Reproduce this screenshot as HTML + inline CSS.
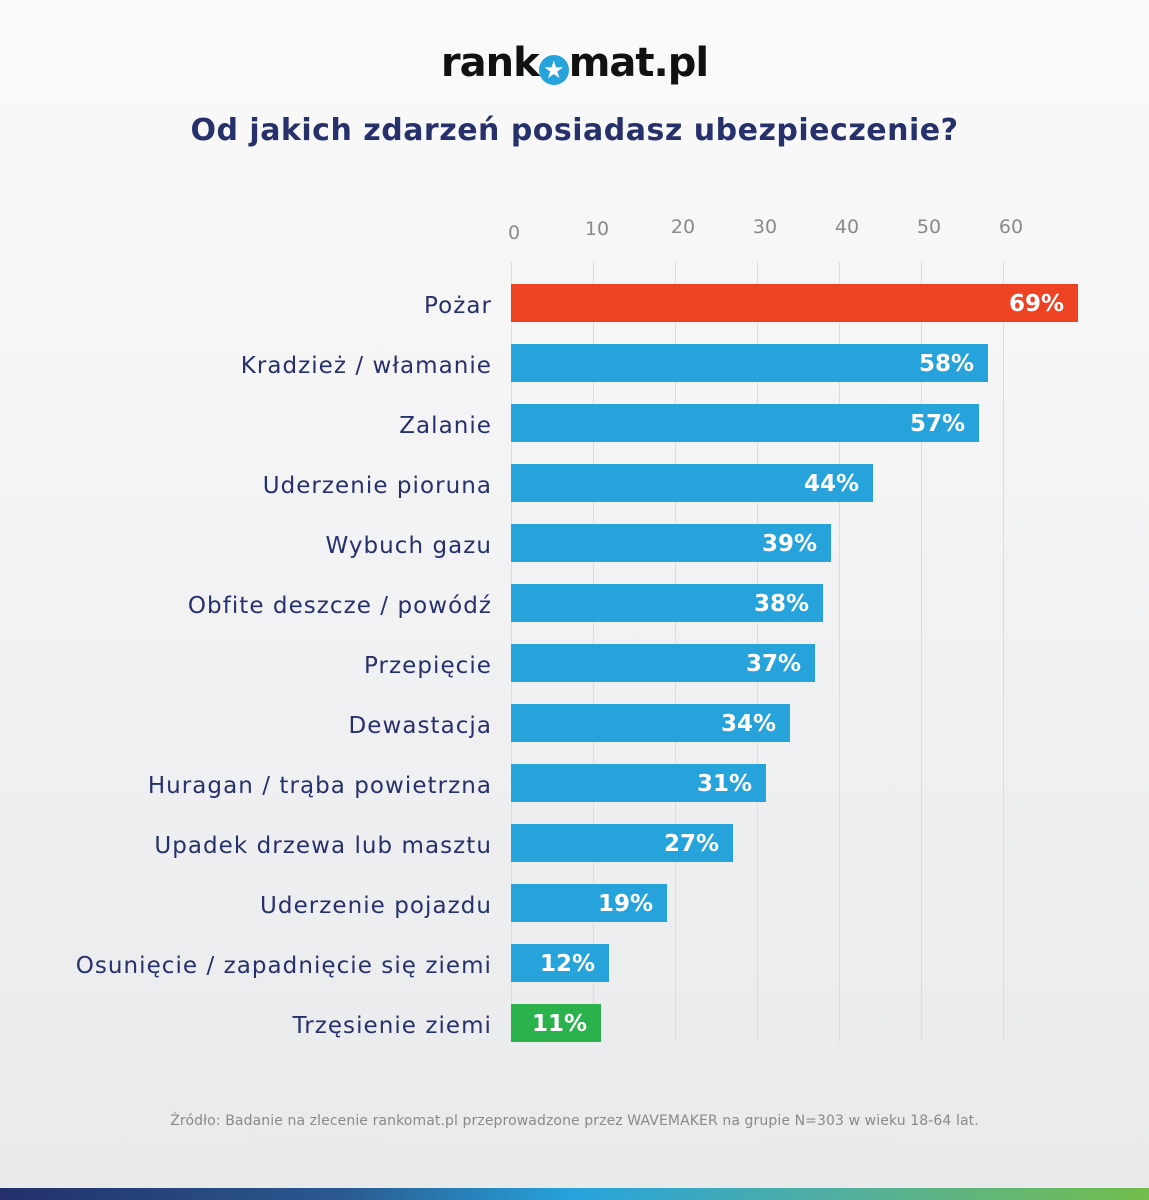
<!DOCTYPE html>
<html><head><meta charset="utf-8"><style>
body{margin:0;width:1149px;height:1200px;overflow:hidden;font-family:"DejaVu Sans",sans-serif;background:linear-gradient(#fafafa 0,#f6f6f7 300px,#e9eaec 1180px);position:relative}
.logo{position:absolute;top:40px;left:0;width:1149px;text-align:center;font-size:40px;font-weight:bold;color:#111;letter-spacing:-1px}
.title{position:absolute;top:113px;left:0;width:1149px;text-align:center;font-size:30px;font-weight:bold;color:#26306b;letter-spacing:0.5px}
.tick{position:absolute;font-size:19px;color:#8a8a8a;width:40px;margin-left:-20px;text-align:center}
.grid{position:absolute;top:262px;height:780px;width:1px;background:#dcdcdc}
.lab{position:absolute;right:657px;font-size:23px;color:#26306b;white-space:nowrap;line-height:38px;letter-spacing:1.05px}
.bar{position:absolute;left:511px;height:38px;background:#27a3dc;color:#fff;font-weight:bold;font-size:23px;line-height:40px;text-align:right;box-sizing:border-box;padding-right:14px}
.src{position:absolute;top:1113px;left:0;width:1149px;text-align:center;font-size:14px;color:#8a8a8a;letter-spacing:0.1px}
.foot{position:absolute;top:1188px;left:0;width:1149px;height:12px;background:linear-gradient(90deg,#23306a,#2a5a90 30%,#27a3dc 50%,#55b09a 75%,#72bd4c)}
</style></head><body>
<div class="logo">rank<span style="display:inline-block;width:30px;height:30px;border-radius:50%;background:#27a3dc;color:#fff;font-size:24px;line-height:30px;vertical-align:-2px;letter-spacing:0">★</span>mat.pl</div>
<div class="title">Od jakich zdarzeń posiadasz ubezpieczenie?</div>
<div class="tick" style="left:514px;top:222px">0</div>
<div class="tick" style="left:597px;top:218px">10</div>
<div class="tick" style="left:683px;top:216px">20</div>
<div class="tick" style="left:765px;top:216px">30</div>
<div class="tick" style="left:847px;top:216px">40</div>
<div class="tick" style="left:929px;top:216px">50</div>
<div class="tick" style="left:1011px;top:216px">60</div>
<div class="grid" style="left:511px"></div><div class="grid" style="left:593px"></div><div class="grid" style="left:675px"></div><div class="grid" style="left:757px"></div><div class="grid" style="left:839px"></div><div class="grid" style="left:921px"></div><div class="grid" style="left:1003px"></div>

<div class="lab" style="top:287px">Pożar</div><div class="bar" style="top:284px;width:567px;background:#ee4323">69%</div>
<div class="lab" style="top:347px">Kradzież / włamanie</div><div class="bar" style="top:344px;width:477px">58%</div>
<div class="lab" style="top:407px">Zalanie</div><div class="bar" style="top:404px;width:468px">57%</div>
<div class="lab" style="top:467px">Uderzenie pioruna</div><div class="bar" style="top:464px;width:362px">44%</div>
<div class="lab" style="top:527px">Wybuch gazu</div><div class="bar" style="top:524px;width:320px">39%</div>
<div class="lab" style="top:587px">Obfite deszcze / powódź</div><div class="bar" style="top:584px;width:312px">38%</div>
<div class="lab" style="top:647px">Przepięcie</div><div class="bar" style="top:644px;width:304px">37%</div>
<div class="lab" style="top:707px">Dewastacja</div><div class="bar" style="top:704px;width:279px">34%</div>
<div class="lab" style="top:767px">Huragan / trąba powietrzna</div><div class="bar" style="top:764px;width:255px">31%</div>
<div class="lab" style="top:827px">Upadek drzewa lub masztu</div><div class="bar" style="top:824px;width:222px">27%</div>
<div class="lab" style="top:887px">Uderzenie pojazdu</div><div class="bar" style="top:884px;width:156px">19%</div>
<div class="lab" style="top:947px">Osunięcie / zapadnięcie się ziemi</div><div class="bar" style="top:944px;width:98px">12%</div>
<div class="lab" style="top:1007px">Trzęsienie ziemi</div><div class="bar" style="top:1004px;width:90px;background:#2bb24c">11%</div>

<div class="src">Źródło: Badanie na zlecenie rankomat.pl przeprowadzone przez WAVEMAKER na grupie N=303 w wieku 18-64 lat.</div>
<div class="foot"></div>
</body></html>
